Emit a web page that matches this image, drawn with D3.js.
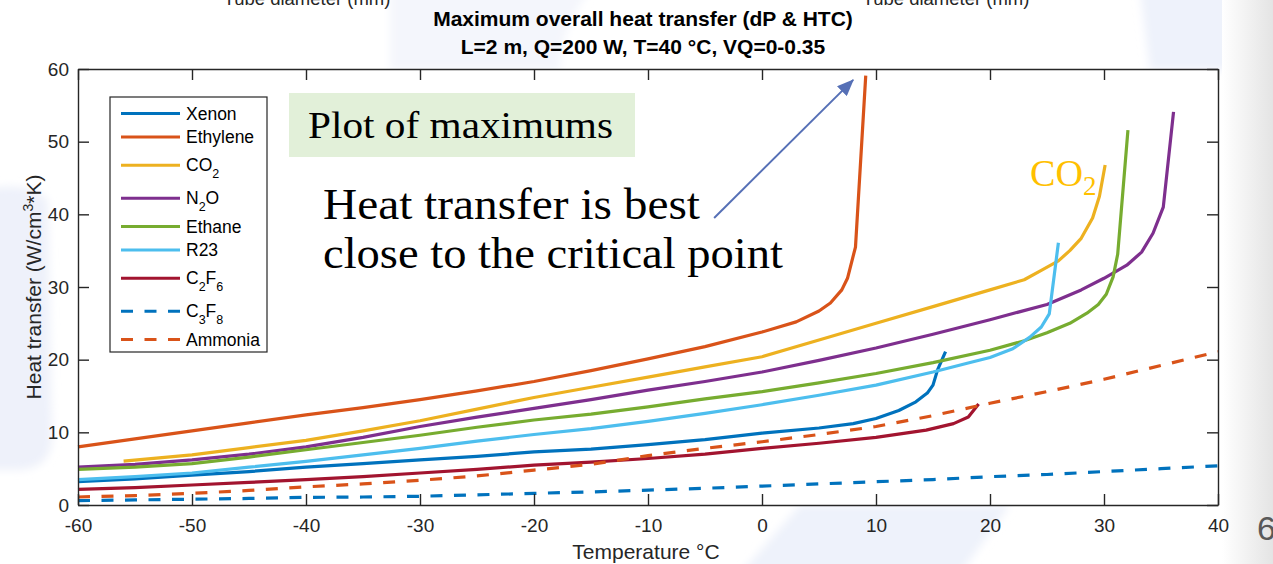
<!DOCTYPE html>
<html>
<head>
<meta charset="utf-8">
<script src="https://cdn.jsdelivr.net/npm/d3@7"></script>
<style>
  html, body { margin: 0; padding: 0; background: #fff; overflow: hidden; }
  svg { display: block; }
</style>
</head>
<body>
<svg id="chart" width="1273" height="564"></svg>
<script>
// ---- Data: temperature (°C) and maximum heat transfer (W/cm^3*K) per fluid ----
const xenonT    = [-60,-55,-50,-45,-40,-35,-30,-25,-20,-15,-10,-5,0,5,8,10,12,13.5,14.5,15,15.4,16.1];
const xenonH    = [3.2,3.6,4.1,4.6,5.2,5.7,6.2,6.7,7.3,7.7,8.3,9.0,9.9,10.6,11.2,11.9,13.0,14.2,15.4,16.5,18.6,21.1];

const ethyleneT = [-60,-55,-50,-45,-40,-35,-30,-25,-20,-15,-10,-5,0,3,5,6,7,7.5,8.2,9.1];
const ethyleneH = [8.0,9.1,10.2,11.3,12.4,13.4,14.5,15.7,17.0,18.5,20.1,21.8,23.8,25.2,26.7,27.8,29.6,31.2,35.5,59.1];

const co2T      = [-56,-50,-45,-40,-35,-30,-25,-20,-15,-10,-5,0,5,10,15,20,23,24.5,26,27,28,29,29.6,30.1];
const co2H      = [6.05,6.9,7.9,8.9,10.2,11.6,13.2,14.8,16.2,17.6,19.0,20.4,22.7,25.0,27.3,29.6,31.0,32.3,33.6,35.0,36.7,39.5,42.5,46.8];

const n2oT      = [-60,-55,-50,-45,-40,-35,-30,-25,-20,-15,-10,-5,0,5,10,15,20,25,28,30,32,33.3,34.3,35.2,36.1];
const n2oH      = [5.2,5.6,6.2,7.0,8.0,9.3,10.8,12.1,13.3,14.5,15.8,17.0,18.3,19.9,21.6,23.5,25.5,27.6,29.6,31.2,33.0,34.8,37.4,41.0,54.1];

const ethaneT   = [-60,-55,-50,-45,-40,-35,-30,-25,-20,-15,-10,-5,0,5,10,15,20,23,25,27,28.5,29.5,30.2,30.8,31.2,32.1];
const ethaneH   = [4.9,5.2,5.7,6.6,7.6,8.6,9.6,10.7,11.7,12.5,13.5,14.6,15.6,16.8,18.1,19.6,21.3,22.6,23.7,25.0,26.4,27.6,29.0,31.4,34.5,51.6];

const r23T      = [-60,-55,-50,-45,-40,-35,-30,-25,-20,-15,-10,-5,0,5,10,15,18,20,22,23.5,24.5,25.2,26.0];
const r23H      = [3.5,3.9,4.4,5.2,6.0,6.9,7.8,8.8,9.7,10.5,11.5,12.6,13.8,15.1,16.5,18.3,19.5,20.3,21.5,23.1,24.5,26.3,36.1];

const c2f6T     = [-60,-55,-50,-45,-40,-35,-30,-25,-20,-15,-10,-5,0,5,10,14.4,16.8,18.1,19.0];
const c2f6H     = [2.15,2.4,2.75,3.1,3.5,3.9,4.4,4.9,5.5,5.9,6.4,7.0,7.8,8.5,9.3,10.3,11.2,12.1,13.9];

const c3f8T     = [-60,-55,-50,-45,-40,-35,-30,-25,-20,-15,-10,-5,0,5,10,15,20,25,30,35,40];
const c3f8H     = [0.6,0.7,0.8,0.9,1.05,1.1,1.2,1.4,1.6,1.8,2.05,2.3,2.6,2.9,3.2,3.5,3.9,4.2,4.6,5.0,5.4];

const ammoniaT  = [-60,-55,-50,-45,-40,-35,-30,-25,-20,-15,-10,-5,0,5,10,15,20,25,30,35,40];
const ammoniaH  = [1.1,1.3,1.6,2.0,2.5,2.9,3.4,4.0,4.8,5.6,6.8,7.8,8.7,9.7,10.8,12.3,14.0,15.6,17.3,19.2,21.1];

// Legend labels ("_n" marks a subscript digit)
const fluidNames = ["Xenon", "Ethylene", "CO_2", "N_2O", "Ethane", "R23", "C_2F_6", "C_3F_8", "Ammonia"];

const xTicks = [-60, -50, -40, -30, -20, -10, 0, 10, 20, 30, 40];
const yTicks = [0, 10, 20, 30, 40, 50, 60];

const titleLines = ["Maximum overall heat transfer (dP & HTC)", "L=2 m, Q=200 W, T=40 °C, VQ=0-0.35"];

// ---- Series table (MATLAB default line colours) ----
const series = [
  { t: xenonT,    h: xenonH,    color: "#0072BD", dashed: false },
  { t: ethyleneT, h: ethyleneH, color: "#D95319", dashed: false },
  { t: co2T,      h: co2H,      color: "#EDB120", dashed: false },
  { t: n2oT,      h: n2oH,      color: "#7E2F8E", dashed: false },
  { t: ethaneT,   h: ethaneH,   color: "#77AC30", dashed: false },
  { t: r23T,      h: r23H,      color: "#4DBEEE", dashed: false },
  { t: c2f6T,     h: c2f6H,     color: "#A2142F", dashed: false },
  { t: c3f8T,     h: c3f8H,     color: "#0072BD", dashed: true  },
  { t: ammoniaT,  h: ammoniaH,  color: "#D95319", dashed: true  }
].map((s, i) => ({ ...s, name: fluidNames[i], points: s.t.map((t, j) => [t, s.h[j]]) }));

const svg = d3.select("#chart");
const W = 1273, H = 564;
const plot = { left: 78, right: 1218, top: 69, bottom: 505 };
const axisColor = "#262626";
const sans = "'Liberation Sans', Arial, Helvetica, sans-serif";
const serif = "'Liberation Serif', 'Times New Roman', serif";
const DASH = "12,11.5";

// ---- Slide background ----
const defs = svg.append("defs");
const grad = defs.append("linearGradient").attr("id", "edgeGrey").attr("x1", "0").attr("x2", "1");
grad.append("stop").attr("offset", "0").attr("stop-color", "#ffffff");
grad.append("stop").attr("offset", "1").attr("stop-color", "#e4e4e4");
defs.append("filter").attr("id", "soft").append("feGaussianBlur").attr("stdDeviation", 4);
defs.append("marker")
  .attr("id", "arrowHead").attr("markerUnits", "userSpaceOnUse")
  .attr("markerWidth", 17).attr("markerHeight", 14)
  .attr("refX", 16).attr("refY", 7).attr("orient", "auto")
  .append("path").attr("d", "M0,0 L17,7 L0,14 Z").attr("fill", "#5670B6");

svg.append("rect").attr("width", W).attr("height", H).attr("fill", "#ffffff");
const bg = svg.append("g").attr("filter", "url(#soft)");
bg.append("path").attr("d", "M-10,188 Q30,182 48,200 L52,440 Q50,468 20,470 L-10,470 Z").attr("fill", "#eef1fa");
bg.append("path").attr("d", "M390,-10 L590,-10 Q560,30 560,70 L390,70 Z").attr("fill", "#f4f6fc");
bg.append("path").attr("d", "M1140,-10 L1245,-10 L1238,70 L1150,70 Z").attr("fill", "#eef2fb");
bg.append("path").attr("d", "M800,505 L1010,505 L960,574 L740,574 Z").attr("fill", "#eef2fb");
svg.append("rect").attr("x", 1222).attr("y", 0).attr("width", 51).attr("height", H).attr("fill", "url(#edgeGrey)");

// Axis labels of neighbouring charts, cut by the top edge
svg.selectAll("text.cut").data([307, 946]).join("text")
  .attr("class", "cut").attr("x", d => d).attr("y", 5)
  .attr("text-anchor", "middle").attr("font-family", sans).attr("font-size", 18.5)
  .attr("fill", axisColor).text("Tube diameter (mm)");

// ---- Scales ----
const x = d3.scaleLinear().domain([-60, 40]).range([plot.left, plot.right]);
const y = d3.scaleLinear().domain([0, 60]).range([plot.bottom, plot.top]);

// Plot area
svg.append("rect")
  .attr("x", plot.left).attr("y", plot.top)
  .attr("width", plot.right - plot.left).attr("height", plot.bottom - plot.top)
  .attr("fill", "#ffffff");

// ---- Curves (drawn in legend order) ----
const line = d3.line().x(d => x(d[0])).y(d => y(d[1]));
svg.append("g").selectAll("path").data(series).join("path")
  .attr("d", d => line(d.points))
  .attr("fill", "none")
  .attr("stroke", d => d.color)
  .attr("stroke-width", 3.2)
  .attr("stroke-linejoin", "round")
  .attr("stroke-dasharray", d => d.dashed ? DASH : null);

// ---- Axes: inward ticks on all four sides, plain hyphen for negatives ----
const plainNum = d => String(d);
function styleAxis(g) {
  g.select(".domain").attr("stroke", axisColor).attr("stroke-width", 1.4);
  g.selectAll(".tick line").attr("stroke", axisColor).attr("stroke-width", 1.4);
  g.selectAll(".tick text").attr("fill", axisColor).attr("font-family", sans).attr("font-size", 19);
}
svg.append("g").attr("transform", `translate(0,${plot.bottom})`)
  .call(d3.axisBottom(x).tickValues(xTicks).tickFormat(plainNum).tickSize(-11).tickSizeOuter(0).tickPadding(14))
  .call(styleAxis);
svg.append("g").attr("transform", `translate(0,${plot.top})`)
  .call(d3.axisTop(x).tickValues(xTicks).tickSize(-11).tickSizeOuter(0).tickFormat(""))
  .call(styleAxis);
svg.append("g").attr("transform", `translate(${plot.left},0)`)
  .call(d3.axisLeft(y).tickValues(yTicks).tickFormat(plainNum).tickSize(-11).tickSizeOuter(0).tickPadding(9))
  .call(styleAxis);
svg.append("g").attr("transform", `translate(${plot.right},0)`)
  .call(d3.axisRight(y).tickValues(yTicks).tickSize(-11).tickSizeOuter(0).tickFormat(""))
  .call(styleAxis);

// ---- Titles and axis labels ----
svg.selectAll("text.title").data(titleLines).join("text")
  .attr("class", "title")
  .attr("x", 643).attr("y", (d, i) => 26 + i * 28)
  .attr("text-anchor", "middle").attr("font-family", sans)
  .attr("font-weight", "bold").attr("font-size", 21).attr("fill", "#000")
  .text(d => d);

svg.append("text")
  .attr("x", 646).attr("y", 559)
  .attr("text-anchor", "middle").attr("font-family", sans).attr("font-size", 21)
  .attr("fill", axisColor).text("Temperature °C");

const yLab = svg.append("text")
  .attr("transform", "translate(41,287) rotate(-90)")
  .attr("text-anchor", "middle").attr("font-family", sans).attr("font-size", 21)
  .attr("fill", axisColor);
yLab.append("tspan").text("Heat transfer (W/cm");
yLab.append("tspan").attr("font-size", 14).attr("dy", -8).text("3");
yLab.append("tspan").attr("dy", 8).text("*K)");

// ---- Legend ----
// Splits "C_2F_6" into runs and lowers each digit that follows "_".
function addLabel(textSel, label, subSize, subShift) {
  const parts = label.split(/_(\d)/);
  let level = 0;
  parts.forEach((p, i) => {
    if (!p) return;
    const isSub = i % 2 === 1;
    const target = isSub ? subShift : 0;
    const ts = textSel.append("tspan").text(p);
    if (target !== level) ts.attr("dy", target - level);
    if (isSub) ts.attr("font-size", subSize);
    level = target;
  });
}
const legendBox = { x: 110, y: 97, w: 157, h: 255 };
const legend = svg.append("g");
legend.append("rect")
  .attr("x", legendBox.x).attr("y", legendBox.y)
  .attr("width", legendBox.w).attr("height", legendBox.h)
  .attr("fill", "#fff").attr("stroke", axisColor).attr("stroke-width", 1.2);
const rowH = s => (s.name.includes("_") ? 33 : 23.5);
let cy = 113.5;
series.forEach((s, i) => {
  if (i > 0) cy += (rowH(series[i - 1]) + rowH(s)) / 2;
  legend.append("line")
    .attr("x1", 121).attr("x2", 180).attr("y1", cy).attr("y2", cy)
    .attr("stroke", s.color).attr("stroke-width", 3.2)
    .attr("stroke-dasharray", s.dashed ? DASH : null);
  const t = legend.append("text")
    .attr("x", 186).attr("y", cy + 6)
    .attr("font-family", sans).attr("font-size", 17.5).attr("fill", "#000");
  addLabel(t, s.name, 12.5, 7);
});

// ---- Slide annotations ----
svg.append("rect")
  .attr("x", 289).attr("y", 93).attr("width", 346).attr("height", 64)
  .attr("fill", "#e2f0d9");
svg.append("text")
  .attr("x", 308).attr("y", 138)
  .attr("font-family", serif).attr("font-size", 38.5).attr("fill", "#000")
  .attr("textLength", 305).attr("lengthAdjust", "spacingAndGlyphs")
  .text("Plot of maximums");

const noteLines = [
  { s: "Heat transfer is best", w: 377, base: 219 },
  { s: "close to the critical point", w: 460, base: 268 }
];
svg.selectAll("text.note").data(noteLines).join("text")
  .attr("class", "note")
  .attr("x", 323).attr("y", d => d.base)
  .attr("font-family", serif).attr("font-size", 44).attr("fill", "#000")
  .attr("textLength", d => d.w).attr("lengthAdjust", "spacingAndGlyphs")
  .text(d => d.s);

// Arrow pointing at the steep rise of the Ethylene curve
svg.append("line")
  .attr("x1", x(-4.2)).attr("y1", y(39.5))
  .attr("x2", x(8.0)).attr("y2", y(58.5))
  .attr("stroke", "#5670B6").attr("stroke-width", 2)
  .attr("marker-end", "url(#arrowHead)");

// CO2 callout next to its curve
const co2Lab = svg.append("text")
  .attr("x", 1030).attr("y", 186)
  .attr("font-family", serif).attr("font-size", 38).attr("fill", "#FFC000");
co2Lab.append("tspan").attr("textLength", 53).attr("lengthAdjust", "spacingAndGlyphs").text("CO");
co2Lab.append("tspan").attr("font-size", 27).attr("dy", 9).text("2");

// Slide number
svg.append("text")
  .attr("x", 1257).attr("y", 540)
  .attr("font-family", sans).attr("font-size", 34).attr("fill", "#595959")
  .text("6");
</script>
</body>
</html>
